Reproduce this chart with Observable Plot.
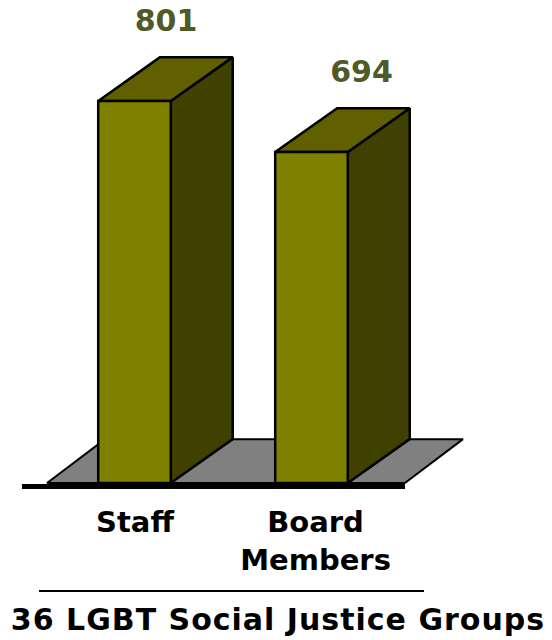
<!DOCTYPE html>
<html>
<head>
<meta charset="utf-8">
<script src="https://cdn.jsdelivr.net/npm/d3@7"></script>
<script src="https://cdn.jsdelivr.net/npm/@observablehq/plot@0.6"></script>
<style>
  html, body { margin: 0; padding: 0; background: #fff; }
  #wrap { position: relative; width: 552px; height: 640px; overflow: hidden; }
  #chart svg { display: block; }
  #rule { position: absolute; left: 39px; top: 590px; width: 385px; height: 2px; background: #000; }
  #title { position: absolute; left: 2px; top: 605px; width: 552px; text-align: center;
           font-family: "DejaVu Sans", Verdana, sans-serif; font-weight: bold; font-size: 30px;
           line-height: 30px; letter-spacing: 1px; color: #000; white-space: nowrap; }
</style>
</head>
<body>
<div id="wrap">
  <div id="chart"></div>
  <div id="rule"></div>
  <div id="title"></div>
</div>
<script>
// ---- data ----
const categories = ["Staff", "Board Members"];
const values = [801, 694];
const tickLabels = ["Staff", "Board\nMembers"];
const titleText = "36 LGBT Social Justice Groups";

// ---- style constants (3-D look) ----
const halfW = 0.205;     // half bar width, in category units
const depthX = 0.35;     // bar depth offset (x, category units)
const depthY = 92;       // bar depth offset (y, value units)
const floorDX = 0.328;   // floor depth offset (x)
const floorLeft = -0.494, floorRight = 1.528, lineLeft = -0.636;
const valueLabelNudge = [0, 0.105];  // horizontal nudge of value labels (category units)
const tickLabelNudge = [0, 0.02];

const rows = categories.map((c, i) => ({i, cat: c, value: values[i], label: tickLabels[i]}));

const sides = rows.flatMap(d => [
  {cat: d.cat, x: d.i + halfW, y1: 0, y2: d.value},
  {cat: d.cat, x: d.i + halfW + depthX, y1: depthY, y2: d.value + depthY}
]);
const tops = rows.flatMap(d => [
  {cat: d.cat, y: d.value, x1: d.i - halfW, x2: d.i + halfW},
  {cat: d.cat, y: d.value + depthY, x1: d.i - halfW + depthX, x2: d.i + halfW + depthX}
]);
const floor = [
  {y: 0, x1: floorLeft, x2: floorRight},
  {y: depthY, x1: floorLeft + floorDX, x2: floorRight + floorDX}
];

const font = "DejaVu Sans, Verdana, sans-serif";
const edge = {stroke: "#000", strokeWidth: 2.5, strokeLinejoin: "miter"};

const chart = Plot.plot({
  width: 552,
  height: 580,
  marginTop: 0, marginRight: 0, marginLeft: 0, marginBottom: 97,
  x: {type: "linear", domain: [-0.7599, 2.3588], axis: null},
  y: {type: "linear", domain: [0, 1012.8], axis: null},
  marks: [
    Plot.areaX(floor, {y: "y", x1: "x1", x2: "x2", fill: "#808080", ...edge, strokeWidth: 2}),
    Plot.ruleY([0], {x1: lineLeft, x2: floorRight, stroke: "#000", strokeWidth: 5, dy: 3}),
    Plot.areaY(sides, {x: "x", y1: "y1", y2: "y2", z: "cat", fill: "#404000", ...edge}),
    Plot.areaX(tops, {y: "y", x1: "x1", x2: "x2", z: "cat", fill: "#606000", ...edge}),
    Plot.rect(rows, {x1: d => d.i - halfW, x2: d => d.i + halfW, y1: 0, y2: "value", fill: "#808000", ...edge}),
    Plot.text(rows, {
      x: d => d.i + depthX / 2 + valueLabelNudge[d.i], y: d => d.value + depthY, text: d => String(d.value),
      lineAnchor: "bottom", dy: -27, fontSize: 30, fontWeight: "bold", fontFamily: font, fill: "#4f5a26"
    }),
    Plot.text(rows, {
      x: d => d.i + tickLabelNudge[d.i], y: 0, text: "label", lineAnchor: "top", dy: 22, lineHeight: 1.31,
      fontSize: 29, fontWeight: "bold", fontFamily: font, fill: "#000"
    })
  ]
});
document.getElementById("chart").appendChild(chart);
document.getElementById("title").textContent = titleText;
</script>
</body>
</html>
